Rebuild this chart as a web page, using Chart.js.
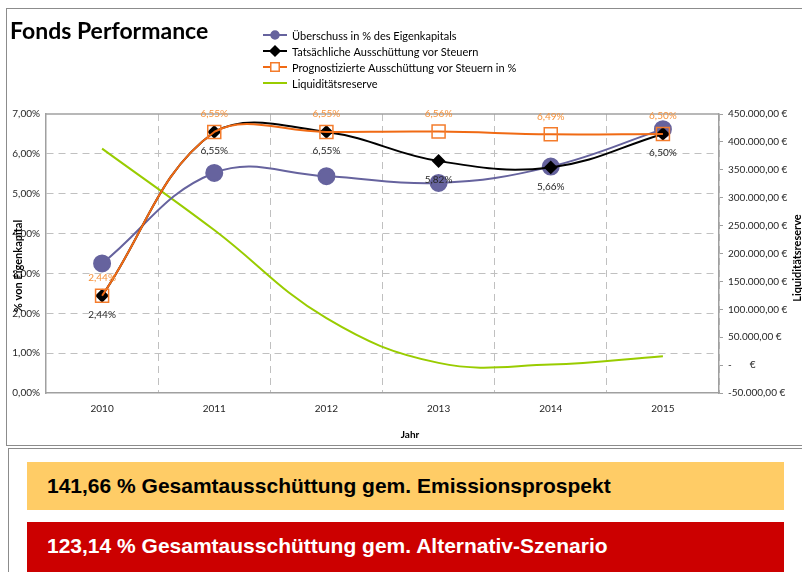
<!DOCTYPE html>
<html>
<head>
<meta charset="utf-8">
<script src="https://cdn.jsdelivr.net/npm/chart.js@4"></script>
<style>
  body { margin: 0; background: #fff; font-family: Lato, sans-serif; }
  #frame { position: absolute; left: 6px; top: 8px; width: 800px; height: 436px; border: 1px solid #8c8c8c; }
  #wrap { position: absolute; left: 0; top: 0; width: 802px; height: 445px; }
  #title { position: absolute; left: 10px; top: 16px; font: bold 23px Lato, sans-serif; color: #000; }
  #panel { position: absolute; left: 8px; top: 448px; width: 800px; height: 130px; border-left: 1px solid #8c8c8c; border-top: 1px solid #8c8c8c; }
  .band { position: absolute; left: 27px; width: 757px; font: bold 21px "Liberation Sans", Arial, sans-serif; box-sizing: border-box; padding-left: 20px; }
  #band1 { top: 462px; height: 48px; line-height: 48px; background: #FFCC66; color: #000; }
  #band2 { top: 522px; height: 50px; line-height: 48px; background: #CC0000; color: #fff; }
</style>
</head>
<body>
<div id="frame"></div>
<div id="wrap"><canvas id="chart" width="802" height="445"></canvas></div>
<div id="title">Fonds Performance</div>
<div id="panel"></div>
<div class="band" id="band1">141,66 % Gesamtausschüttung gem. Emissionsprospekt</div>
<div class="band" id="band2">123,14 % Gesamtausschüttung gem. Alternativ-Szenario</div>
<script>
const years = ['2010', '2011', '2012', '2013', '2014', '2015'];
const ueberschuss = [3.25, 5.52, 5.44, 5.27, 5.68, 6.62];
const tatsaechlich = [2.44, 6.55, 6.55, 5.82, 5.66, 6.50];
const prognose = [2.44, 6.55, 6.55, 6.56, 6.49, 6.50];
const liquiditaet = [388000, 242000, 84000, 4000, 1000, 16000];

const purple = '#66639E';
const orange = '#F06A14';
const orangeMark = '#F47C2C';
const green = '#99CC00';
const axisGray = '#A0A0A0';
const gridGray = '#C0C0C0';

function pct(v) {
    return v.toFixed(2).replace('.', ',') + '%';
}

function euro(v) {
    if (v === 0) return '-       €';
    const neg = v < 0;
    const s = Math.abs(v).toFixed(0).replace(/\B(?=(\d{3})+(?!\d))/g, '.');
    return (neg ? '-' : '') + s + ',00 €';
}

// value labels, frame top line, axis titles, legend
const extras = {
    id: 'extras',
    beforeDatasetsDraw(chart) {
        const ctx = chart.ctx, a = chart.chartArea;
        ctx.save();
        ctx.strokeStyle = axisGray;
        ctx.lineWidth = 1.5;
        ctx.beginPath();
        ctx.moveTo(a.left, a.top);
        ctx.lineTo(a.right, a.top);
        ctx.stroke();
        ctx.restore();
    },
    afterDatasetsDraw(chart) {
        const ctx = chart.ctx;
        ctx.save();
        ctx.font = '10px Lato, sans-serif';
        ctx.textAlign = 'center';
        ctx.textBaseline = 'middle';
        chart.getDatasetMeta(2).data.forEach((p, i) => {
            ctx.fillStyle = '#F7923A';
            ctx.fillText(pct(prognose[i]), p.x, p.y - 18);
        });
        chart.getDatasetMeta(1).data.forEach((p, i) => {
            ctx.fillStyle = '#262626';
            ctx.fillText(pct(tatsaechlich[i]), p.x, p.y + 19);
        });

        // axis titles
        ctx.fillStyle = '#000';
        ctx.font = 'bold 11px Lato, sans-serif';
        ctx.save();
        ctx.translate(18, 266);
        ctx.rotate(-Math.PI / 2);
        ctx.fillText('% von Eigenkapital', 0, 0);
        ctx.restore();
        ctx.save();
        ctx.translate(797, 258);
        ctx.rotate(-Math.PI / 2);
        ctx.fillText('Liquiditätsreserve', 0, 0);
        ctx.restore();
        ctx.font = 'bold 10px Lato, sans-serif';
        ctx.fillText('Jahr', 410, 435);

        // legend
        const rows = [35, 51, 67, 83];
        ctx.font = '11px Lato, sans-serif';
        ctx.textAlign = 'left';
        chart.data.datasets.forEach((ds, i) => {
            const y = rows[i];
            ctx.strokeStyle = ds.borderColor;
            ctx.lineWidth = 2;
            ctx.beginPath();
            ctx.moveTo(263, y);
            ctx.lineTo(287, y);
            ctx.stroke();
            if (ds.pointRadius > 0) {
                ctx.fillStyle = ds.legendFill;
                ctx.strokeStyle = ds.pointBorderColor;
                ctx.lineWidth = 1.5;
                Chart.helpers.drawPoint(ctx, {pointStyle: ds.pointStyle, radius: ds.legendRadius, borderWidth: 1.5}, 275, y);
            }
            ctx.fillStyle = '#000';
            ctx.fillText(ds.label, 292, y + 1);
        });
        ctx.restore();
    }
};

const config = {
    type: 'line',
    data: {
        labels: years,
        datasets: [{
            label: 'Überschuss in % des Eigenkapitals',
            data: ueberschuss,
            yAxisID: 'y',
            borderColor: purple,
            backgroundColor: purple,
            pointBackgroundColor: purple,
            pointBorderColor: purple,
            pointStyle: 'circle',
            pointRadius: 8,
            legendRadius: 4,
            legendFill: purple,
            borderWidth: 2,
            tension: 0.4,
            order: 3
        }, {
            label: 'Tatsächliche Ausschüttung vor Steuern',
            data: tatsaechlich,
            yAxisID: 'y',
            borderColor: '#000',
            backgroundColor: '#000',
            pointBackgroundColor: '#000',
            pointBorderColor: '#000',
            pointStyle: 'rectRot',
            pointRadius: 5.5,
            legendRadius: 5,
            legendFill: '#000',
            borderWidth: 2,
            tension: 0.4,
            order: 2
        }, {
            label: 'Prognostizierte Ausschüttung vor Steuern in %',
            data: prognose,
            yAxisID: 'y',
            borderColor: orange,
            backgroundColor: 'rgba(0,0,0,0)',
            pointBackgroundColor: 'rgba(0,0,0,0)',
            pointBorderColor: orangeMark,
            pointStyle: 'rect',
            pointRadius: 9.2,
            pointBorderWidth: 1.5,
            legendRadius: 6,
            legendFill: '#fff',
            borderWidth: 2,
            tension: 0.4,
            order: 1
        }, {
            label: 'Liquiditätsreserve',
            data: liquiditaet,
            yAxisID: 'y1',
            borderColor: green,
            backgroundColor: green,
            pointRadius: 0,
            borderWidth: 2,
            tension: 0.4,
            order: 4
        }]
    },
    options: {
        responsive: false,
        animation: false,
        clip: false,
        layout: { padding: { top: 114, left: 0, right: 0, bottom: 0 } },
        plugins: {
            legend: { display: false },
            title: { display: false },
            tooltip: { enabled: false }
        },
        scales: {
            x: {
                offset: true,
                grid: { offset: true, color: gridGray, drawTicks: false, lineWidth: 1 },
                border: { color: axisGray, width: 1.5, dash: [7, 5] },
                ticks: { color: '#262626', font: { family: 'Lato', size: 10 }, padding: 10 },
                afterFit(scale) { scale.height = 52; }
            },
            y: {
                position: 'left',
                min: 0,
                max: 7,
                grid: {
                    drawTicks: false,
                    lineWidth: 1,
                    color: c => (c.tick && (c.tick.value === 7 || c.tick.value === 0)) ? 'rgba(0,0,0,0)' : gridGray
                },
                border: { color: axisGray, width: 1.5, dash: [7, 5] },
                ticks: { stepSize: 1, color: '#262626', font: { family: 'Lato', size: 10 }, padding: 6, callback: v => pct(v) },
                afterFit(scale) { scale.width = 46; }
            },
            y1: {
                position: 'right',
                min: -50000,
                max: 450000,
                grid: { drawOnChartArea: false, drawTicks: true, tickLength: 4, color: axisGray },
                border: { color: axisGray, width: 1.5 },
                ticks: { stepSize: 50000, color: '#262626', font: { family: 'Lato', size: 10 }, padding: 5, callback: v => euro(v) },
                afterFit(scale) { scale.width = 83; }
            }
        }
    },
    plugins: [extras]
};

const myChart = new Chart(document.getElementById('chart'), config);
</script>
</body>
</html>
